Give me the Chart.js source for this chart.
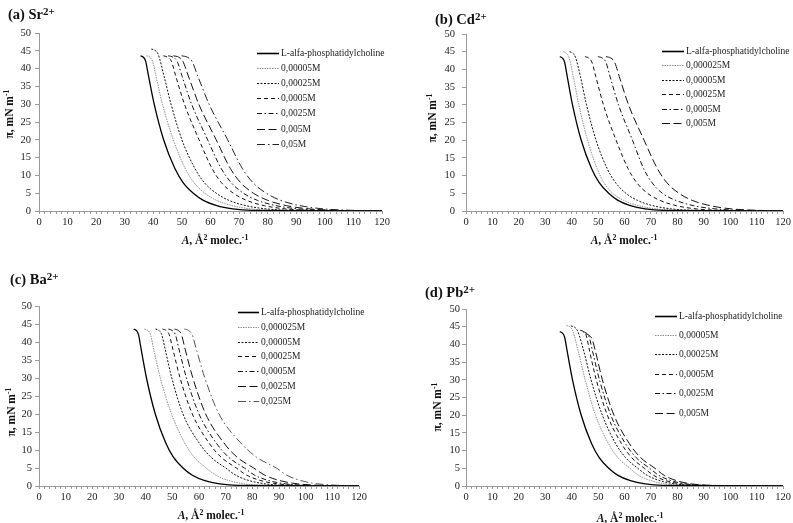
<!DOCTYPE html>
<html>
<head>
<meta charset="utf-8">
<script src="https://cdn.jsdelivr.net/npm/chart.js@4.4.1/dist/chart.umd.min.js"></script>
<style>
  html, body { margin:0; padding:0; background:#fff; }
  body { width:793px; height:523px; position:relative; overflow:hidden; font-family:"Liberation Serif", "Times New Roman", serif; }
  canvas { position:absolute; }
  .ptitle { position:absolute; font-weight:bold; font-size:14.5px; line-height:16px; color:#111; white-space:nowrap; }
  .ptitle sup { font-size:11px; vertical-align:0.35em; line-height:0; }
  .xt { position:absolute; font-weight:bold; font-size:11.5px; color:#111; white-space:nowrap; transform:translate(-50%,-50%); }
  .yt { position:absolute; font-weight:bold; font-size:11.5px; color:#111; white-space:nowrap; transform:translate(-50%,-50%) rotate(-90deg); }
  .xt sup, .yt sup { font-size:0.68em; vertical-align:0.45em; line-height:0; }
</style>
</head>
<body>
<canvas id="cA" width="400" height="260" style="left:0;top:0"></canvas>
<canvas id="cB" width="393" height="260" style="left:400px;top:0"></canvas>
<canvas id="cC" width="400" height="263" style="left:0;top:260px"></canvas>
<canvas id="cD" width="393" height="263" style="left:400px;top:260px"></canvas>

<div class="ptitle" style="left:8px;top:6px">(a) Sr<sup>2+</sup></div>
<div class="ptitle" style="left:435px;top:11px">(b) Cd<sup>2+</sup></div>
<div class="ptitle" style="left:10px;top:271px">(c) Ba<sup>2+</sup></div>
<div class="ptitle" style="left:425px;top:284px">(d) Pb<sup>2+</sup></div>

<div class="xt" style="left:215px;top:240px"><i>A</i>, Å<sup>2</sup> molec.<sup>-1</sup></div>
<div class="xt" style="left:624px;top:240px"><i>A</i>, Å<sup>2</sup> molec.<sup>-1</sup></div>
<div class="xt" style="left:211px;top:515px"><i>A</i>, Å<sup>2</sup> molec.<sup>-1</sup></div>
<div class="xt" style="left:630px;top:518px"><i>A</i>, Å<sup>2</sup> molec.<sup>-1</sup></div>

<div class="yt" style="left:9px;top:114px">π, mN m<sup>-1</sup></div>
<div class="yt" style="left:432px;top:118px">π, mN m<sup>-1</sup></div>
<div class="yt" style="left:11px;top:412px">π, mN m<sup>-1</sup></div>
<div class="yt" style="left:437px;top:407px">π, mN m<sup>-1</sup></div>

<script>
// ---------- common ----------
const piStd  = [43.6, 43.2, 42.1, 38, 30, 20, 12, 8, 5, 3, 1.5, 0.6, 0.2, 0.05];
const pi455  = [45.5, 45.1, 44.0, 38, 30, 20, 12, 8, 5, 3, 1.5, 0.6, 0.2, 0.05];
const pi450  = [45.0, 44.6, 43.5, 38, 30, 20, 12, 8, 5, 3, 1.5, 0.6, 0.2, 0.05];
const pi453  = [45.3, 44.9, 43.8, 38, 30, 20, 12, 8, 5, 3, 1.5, 0.6, 0.2, 0.05];
const pi452  = [45.2, 44.8, 43.7, 38, 30, 20, 12, 8, 5, 3, 1.5, 0.6, 0.2, 0.05];
const pi440  = [44.0, 43.6, 42.5, 38, 30, 20, 12, 8, 5, 3, 1.5, 0.6, 0.2, 0.05];
const pi430  = [43.0, 42.6, 41.5, 38, 30, 20, 12, 8, 5, 3, 1.5, 0.6, 0.2, 0.05];
const areaPC = [35.5, 36.5, 37.3, 38.3, 40.3, 43.6, 47.5, 50.4, 54, 57.5, 62.2, 67.8, 74.5, 120];

// ---------- (a) Sr2+ ----------
const srNames = ["L-alfa-phosphatidylcholine", "0,00005M", "0,00025M", "0,0005M", "0,0025M", "0,005M", "0,05M"];
const srArea = [
  areaPC,
  [37.6, 38.8, 39.7, 40.9, 43.2, 47.0, 51.1, 54.2, 58.0, 62.1, 67.6, 74.2, 82.0, 120],
  [39.3, 40.6, 41.7, 43.7, 46.2, 50.0, 54.5, 57.8, 62.0, 66.4, 72.4, 79.5, 88.0, 120],
  [43.5, 45.0, 46.3, 47.8, 50.9, 56.0, 60.5, 63.8, 68.0, 72.6, 78.8, 86.2, 95.0, 120],
  [45.2, 46.9, 48.3, 50.0, 53.4, 59.0, 63.7, 67.2, 71.5, 76.4, 82.9, 90.7, 100.0, 120],
  [47.0, 48.9, 50.3, 52.2, 55.9, 62.0, 66.9, 70.5, 75.0, 80.0, 86.6, 94.5, 104.0, 120],
  [49.9, 51.9, 53.5, 55.5, 59.5, 66.0, 71.1, 74.8, 79.5, 84.5, 91.3, 99.4, 109.0, 120]
];
const srPi = [piStd, piStd, pi455, piStd, piStd, piStd, piStd];
const srStyle = ["solid", "grayDot", "dot", "dash", "dashDot", "longDash", "longDashDot"];

// ---------- (b) Cd2+ ----------
const cdNames = ["L-alfa-phosphatidylcholine", "0,000025M", "0,00005M", "0,00025M", "0,0005M", "0,005M"];
const cdArea = [
  areaPC,
  [36.8, 37.9, 38.9, 40.6, 42.7, 46.0, 49.6, 52.2, 55.5, 59.7, 65.3, 72.0, 80.0, 120],
  [39.2, 40.4, 41.4, 43.3, 45.6, 49.2, 53.4, 56.6, 60.5, 64.9, 70.7, 77.7, 86.0, 120],
  [45.0, 46.5, 47.6, 49.1, 52.0, 56.8, 61.3, 64.6, 68.7, 73.4, 79.6, 87.1, 96.0, 120],
  [50.0, 51.6, 52.9, 54.5, 57.7, 63.0, 67.2, 70.4, 74.3, 79.4, 86.2, 94.3, 104.0, 120],
  [53.0, 54.8, 56.2, 58.0, 61.5, 67.4, 72.4, 76.0, 80.6, 85.6, 92.4, 100.4, 110.0, 120]
];
const cdPi = [piStd, pi450, pi450, piStd, piStd, piStd];
const cdStyle = ["solid", "grayDot", "dot", "dash", "dashDot", "longDash"];

// ---------- (c) Ba2+ ----------
const baNames = ["L-alfa-phosphatidylcholine", "0,000025M", "0,00005M", "0,00025M", "0,0005M", "0,0025M", "0,025M"];
const baArea = [
  areaPC,
  [39.5, 40.8, 41.8, 43.0, 45.5, 49.7, 54.6, 58.2, 62.7, 66.3, 71.2, 77.0, 84.0, 120],
  [43.7, 45.0, 46.0, 47.3, 49.8, 54.0, 60.0, 64.5, 70.0, 73.8, 78.8, 84.8, 92.0, 120],
  [46.3, 47.7, 48.8, 50.2, 52.9, 57.5, 63.7, 68.3, 74.0, 77.9, 83.2, 89.5, 97.0, 120],
  [48.5, 49.9, 51.1, 52.5, 55.3, 60.0, 66.4, 71.1, 77.0, 80.9, 86.2, 92.5, 100.0, 120],
  [50.8, 52.2, 53.4, 54.8, 57.7, 62.5, 69.3, 74.3, 80.5, 84.7, 90.3, 97.0, 105.0, 120],
  [54.5, 56.1, 57.4, 59.0, 62.2, 67.5, 75.6, 81.6, 89.0, 92.9, 98.2, 104.5, 112.0, 120]
];
const baPi = [piStd, piStd, piStd, piStd, piStd, piStd, piStd];
const baStyle = ["solid", "grayDot", "dot", "dash", "dashDot", "longDash", "longDashDotGray"];

// ---------- (d) Pb2+ ----------
const pbNames = ["L-alfa-phosphatidylcholine", "0,00005M", "0,00025M", "0,0005M", "0,0025M", "0,005M"];
const pbArea = [
  areaPC,
  [38.0, 39.4, 40.4, 42.5, 45.1, 49.0, 53.9, 57.5, 62.0, 65.4, 70.0, 75.5, 82.0, 120],
  [39.7, 41.2, 42.3, 44.6, 47.3, 51.6, 56.6, 60.4, 65.0, 68.6, 73.4, 79.1, 86.0, 120],
  [43.2, 44.5, 45.5, 46.8, 49.3, 53.5, 58.8, 62.7, 67.5, 71.0, 75.7, 81.3, 88.0, 120],
  [44.2, 45.5, 46.6, 47.9, 50.5, 54.8, 60.3, 64.4, 69.5, 73.0, 77.7, 83.3, 90.0, 120],
  [45.3, 46.6, 47.7, 49.0, 51.6, 56.0, 61.8, 66.1, 71.5, 75.0, 79.7, 85.3, 92.0, 120]
];
const pbPi = [piStd, pi453, pi452, pi440, piStd, pi430];
const pbStyle = ["solid", "grayDot", "dot", "dash", "dashDot", "longDash"];

// ---------- styles ----------
const STY = {
  solid:           { c: "#000000", w: 1.3, d: [] },
  grayDot:         { c: "#8f8f8f", w: 1.0, d: [1.5, 1] },
  dot:             { c: "#111111", w: 1.0, d: [2, 1.5] },
  dash:            { c: "#111111", w: 1.0, d: [4, 3] },
  dashDot:         { c: "#111111", w: 1.0, d: [5, 2.5, 1.5, 2.5] },
  longDash:        { c: "#111111", w: 1.0, d: [8, 3.5] },
  longDashDot:     { c: "#222222", w: 1.0, d: [8, 3, 1.5, 3] },
  longDashDotGray: { c: "#555555", w: 1.0, d: [8, 3, 1.5, 3] }
};

const legendPlugin = {
  id: "inLegend",
  afterDatasetsDraw(chart, args, o) {
    const ctx = chart.ctx;
    ctx.save();
    chart.data.datasets.forEach((ds, i) => {
      const y = Math.round(o.y0 + i * o.dy) + 0.5;
      ctx.strokeStyle = ds.borderColor;
      ctx.lineWidth = ds.borderWidth + (ds.borderDash.length ? 0 : 0.3);
      ctx.setLineDash(ds.borderDash);
      ctx.beginPath(); ctx.moveTo(o.x0, y); ctx.lineTo(o.x1, y); ctx.stroke();
      ctx.setLineDash([]);
      ctx.fillStyle = "#222";
      ctx.font = '9.5px "Liberation Serif"';
      ctx.textBaseline = "middle";
      ctx.textAlign = "left";
      ctx.fillText(ds.label, o.x1 + 2, y);
    });
    ctx.restore();
  }
};

const tickFont = { family: '"Liberation Serif"', size: 10.5 };

function makeChart(id, names, areas, pis, styles, L) {
  const datasets = names.map((n, i) => {
    const s = STY[styles[i]];
    return {
      label: n,
      data: areas[i].map((a, k) => ({ x: a, y: pis[i][k] })),
      borderColor: s.c,
      borderWidth: s.w,
      borderDash: s.d,
      pointRadius: 0,
      fill: false,
      cubicInterpolationMode: "monotone"
    };
  });
  return new Chart(document.getElementById(id), {
    type: "line",
    data: { datasets },
    plugins: [legendPlugin],
    options: {
      responsive: false,
      animation: false,
      layout: { padding: { left: 0, right: L.right, top: L.top, bottom: 0 } },
      plugins: {
        legend: { display: false },
        tooltip: { enabled: false },
        inLegend: L.legend
      },
      scales: {
        x: {
          type: "linear", min: 0, max: 120,
          afterFit: (sc) => { sc.height = L.xh; },
          ticks: {
            stepSize: 2, autoSkip: false, maxRotation: 0, minRotation: 0,
            callback: (v) => (Math.round(v) % 10 === 0 ? String(Math.round(v)) : ""),
            font: tickFont, color: "#222", padding: 2
          },
          grid: { display: true, drawOnChartArea: false, drawTicks: true, tickLength: 3, color: "#9a9a9a" },
          border: { display: true, color: "#9a9a9a", width: 1 }
        },
        y: {
          type: "linear", min: 0, max: 50,
          afterFit: (sc) => { sc.width = L.yw; },
          ticks: { stepSize: 5, font: tickFont, color: "#222", padding: L.ypad },
          grid: { display: true, drawOnChartArea: false, drawTicks: true, tickLength: 4, color: "#9a9a9a" },
          border: { display: true, color: "#9a9a9a", width: 1 }
        }
      }
    }
  });
}

makeChart("cA", srNames, srArea, srPi, srStyle,
  { right: 18, top: 33, xh: 49, yw: 39, ypad: 4, legend: { x0: 257, x1: 279, y0: 52.5, dy: 15.2 } });
makeChart("cB", cdNames, cdArea, cdPi, cdStyle,
  { right: 8, top: 34, xh: 49, yw: 66, ypad: 7, legend: { x0: 262, x1: 284, y0: 50.5, dy: 14.5 } });
makeChart("cC", baNames, baArea, baPi, baStyle,
  { right: 41, top: 46, xh: 37, yw: 39, ypad: 3, legend: { x0: 238, x1: 259, y0: 52, dy: 14.8 } });
makeChart("cD", pbNames, pbArea, pbPi, pbStyle,
  { right: 7, top: 49, xh: 37, yw: 66, ypad: 2, legend: { x0: 255, x1: 277, y0: 55.5, dy: 19.4 } });
</script>
</body>
</html>
